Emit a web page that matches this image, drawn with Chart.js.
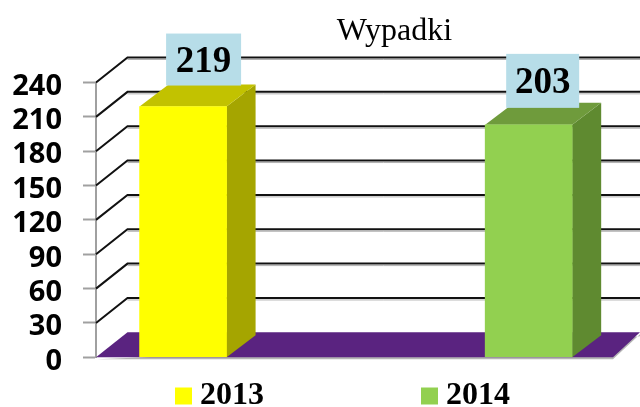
<!DOCTYPE html>
<html>
<head>
<meta charset="utf-8">
<style>html,body{margin:0;padding:0;background:#fff}#w{width:640px;height:407px}</style>
<script src="https://cdn.jsdelivr.net/npm/chart.js@4"></script>
</head>
<body>
<div id="w"><canvas id="c" width="640" height="407"></canvas></div>
<script>
const categories = ['2013', '2014'];
const values = [219, 203];
const frontColors = ['#ffff00', '#92d050'];
const topColors = ['#c2c200', '#6f9b3c'];
const sideColors = ['#a5a500', '#5f8a30'];
const titleText = 'Wypadki';
const labelBoxColor = '#b7dde8';
const labelBoxes = [{dx: 20.5, dy: -47, w: 75, h: 52}, {dx: 14, dy: -44, w: 73, h: 54}];
const depthX = 31.5, depthY = 25, barDepthX = 29, barDepthY = 22;
const legendGap = 165;

const poly = (ctx, pts, color) => {
  ctx.fillStyle = color; ctx.beginPath();
  pts.forEach((p, i) => i ? ctx.lineTo(p[0], p[1]) : ctx.moveTo(p[0], p[1]));
  ctx.closePath(); ctx.fill();
};

const scene = {
  id: 'scene',
  afterLayout(chart) {
    const l = chart.legend, t = chart.titleBlock;
    l.left = 183 - legendGap; l.right = 900;
    l.top = 380 - legendGap; l.bottom = 407;
    t.left += 88; t.right += 88;
  },
  beforeDatasetsDraw(chart) {
    const ctx = chart.ctx, y = chart.scales.y, a = chart.chartArea;
    const y0 = y.getPixelForValue(0);
    ctx.save();
    y.ticks.forEach(t => {
      const py = y.getPixelForValue(t.value);
      if (t.value === 0) return;
      ctx.strokeStyle = '#b0b0b0'; ctx.lineWidth = 1;
      ctx.beginPath(); ctx.moveTo(a.left + depthX, py - depthY + 2); ctx.lineTo(chart.width, py - depthY + 2); ctx.stroke();
      ctx.strokeStyle = '#111'; ctx.lineWidth = 2;
      ctx.beginPath(); ctx.moveTo(a.left, py); ctx.lineTo(a.left + depthX, py - depthY); ctx.lineTo(chart.width, py - depthY); ctx.stroke();
    });
    poly(ctx, [[a.left + 1, y0 + 2], [a.right, y0 + 2], [chart.width, y0 - depthY + 2], [chart.width, y0 - depthY + 4]], '#b5b5b5');
    poly(ctx, [[a.left, y0], [a.left + depthX, y0 - depthY], [chart.width, y0 - depthY], [a.right, y0]], '#5a2380');
    chart.getDatasetMeta(0).data.forEach((b, i) => {
      const r = b.x + b.width / 2, l = b.x - b.width / 2;
      poly(ctx, [[r, b.y], [r + barDepthX, b.y - barDepthY], [r + barDepthX, y0 - barDepthY], [r, y0]], sideColors[i]);
      poly(ctx, [[l, b.y], [l + barDepthX, b.y - barDepthY], [r + barDepthX, b.y - barDepthY], [r, b.y]], topColors[i]);
    });
    ctx.restore();
  },
  afterDatasetsDraw(chart) {
    const ctx = chart.ctx;
    ctx.save();
    chart.getDatasetMeta(0).data.forEach((b, i) => {
      const o = labelBoxes[i], cx = b.x + o.dx, cy = b.y + o.dy;
      ctx.fillStyle = labelBoxColor;
      ctx.fillRect(cx - o.w / 2, cy - o.h / 2, o.w, o.h);
      ctx.fillStyle = '#000';
      ctx.font = 'bold 37px "Liberation Serif"';
      ctx.textAlign = 'center'; ctx.textBaseline = 'middle';
      ctx.fillText(String(values[i]), cx, cy + 3);
    });
    ctx.restore();
  }
};

new Chart(document.getElementById('c'), {
  type: 'bar',
  data: {
    datasets: [{
      data: categories.map((c, i) => ({x: Number(c), y: values[i]})),
      backgroundColor: frontColors,
      borderWidth: 0,
      barThickness: 87
    }]
  },
  options: {
    responsive: false,
    animation: false,
    layout: {padding: {left: 0, right: 27, top: 0, bottom: 0}},
    scales: {
      x: {type: 'linear', display: false, offset: false, min: 2012.748, max: 2014.244, grid: {display: false}},
      y: {
        min: 0, max: 240,
        afterFit(s) { s.width = 96; },
        border: {color: '#a0a0a0', width: 2},
        grid: {drawOnChartArea: false, drawTicks: true, tickLength: 13, tickColor: '#a0a0a0', tickWidth: 2},
        ticks: {stepSize: 30, autoSkip: false, padding: 21, labelOffset: 4, color: '#000', font: {family: '"Open Sans"', weight: 'bold', size: 29}}
      }
    },
    plugins: {
      tooltip: {enabled: false},
      title: {
        display: true, text: titleText, color: '#000',
        font: {family: '"Liberation Serif"', size: 32, weight: 'normal'},
        padding: {top: 12, bottom: 32.1}
      },
      legend: {
        display: true, position: 'bottom', align: 'start', maxHeight: 49.7,
        onClick: null,
        labels: {
          usePointStyle: true, boxWidth: 1, boxHeight: 17, padding: legendGap, color: '#000',
          font: {family: '"Liberation Serif"', weight: 'bold', size: 32},
          generateLabels: () => categories.map((c, i) => ({
            text: c, fillStyle: frontColors[i], strokeStyle: frontColors[i], lineWidth: 0,
            pointStyle: 'rect', hidden: false, datasetIndex: 0, index: i
          }))
        }
      }
    }
  },
  plugins: [scene]
});
</script>
</body>
</html>
